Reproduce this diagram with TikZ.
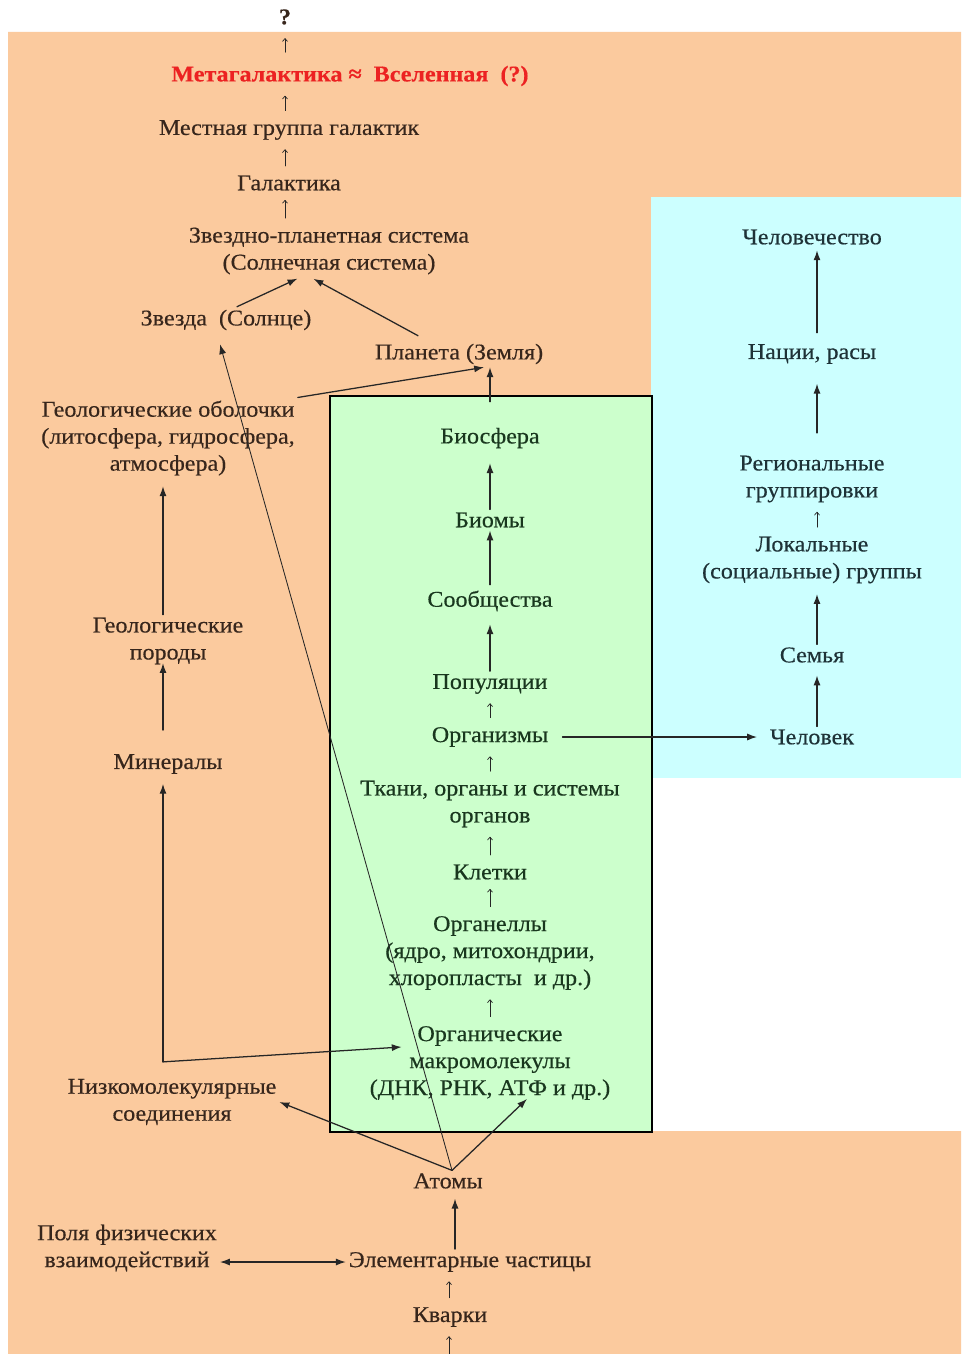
\documentclass[tikz,border=0pt]{standalone}
\usepackage{fontspec}
\setmainfont{Liberation Serif}[FakeStretch=1.07,FakeBold=0.4]
\usetikzlibrary{arrows.meta,calc}
\definecolor{peach}{RGB}{251,202,158}
\definecolor{palecyan}{RGB}{204,255,255}
\definecolor{palegreen}{RGB}{204,255,204}
\definecolor{ink}{RGB}{55,38,28}
\definecolor{greenink}{RGB}{25,55,30}
\definecolor{cyanink}{RGB}{30,50,55}
\definecolor{titlered}{RGB}{236,34,34}

\begin{document}
\begin{tikzpicture}[x=0.025cm,y=-0.025cm,line cap=round,
  lvl/.style={font=\fontsize{16}{19.2}\selectfont,text=ink,align=center,inner sep=2pt},
  biolvl/.style={lvl,text=greenink},
  soclvl/.style={lvl,text=cyanink},
  title/.style={lvl,font=\fontsize{16}{19.2}\selectfont\bfseries,text=titlered},
  link/.style={->,>={Latex[length=7pt,width=5pt]},line width=0.9pt,draw=black!85},
  thinlink/.style={link,line width=0.6pt},
  uptick/.style={-{To[length=2.5pt,width=4pt]},line width=0.5pt,draw=black!85,shorten <=#1,shorten >=#1},
  uptick/.default=4.6pt]
  \useasboundingbox (0,0) rectangle (961,1354);
  % backgrounds
  \fill[peach] (8,32) -- (961,32) -- (961,197) -- (651,197) -- (651,1131) -- (961,1131) -- (961,1354) -- (8,1354) -- cycle;
  \fill[palecyan] (651,197) rectangle (961,778);
  \filldraw[fill=palegreen,line width=2pt] (330,396) rectangle (652,1132);
  \coordinate (tcol) at (285,0); \coordinate (lcol) at (163,0);
  \coordinate (rcol) at (817,0); \coordinate (bcol) at (455,0); \coordinate (kcol) at (449,0);

  % cosmos
  \node[title,text=ink] (q) at (285,17) {?};
  \node[title] (meta) at (350,76) {Метагалактика ≈~~Вселенная~~(?)};
  \node[lvl] (mestn) at (289,130) {Местная группа галактик};
  \node[lvl] (galak) at (289,183) {Галактика};
  \node[lvl] (zvpl) at (329,251) {Звездно-планетная система\\(Солнечная система)};
  \node[lvl] (zvezda) at (226,320) {Звезда~~(Солнце)};
  \node[lvl] (planeta) at (459,354) {Планета (Земля)};
  % geology
  \node[lvl] (geolob) at (168,438) {Геологические оболочки\\(литосфера, гидросфера,\\атмосфера)};
  \node[lvl] (geolpor) at (168,641) {Геологические\\породы};
  \node[lvl] (miner) at (168,764) {Минералы};
  \node[lvl] (nizk) at (172,1102) {Низкомолекулярные\\соединения};
  % living matter
  \node[biolvl] (biosf) at (490,438) {Биосфера};
  \node[biolvl] (biomy) at (490,520) {Биомы};
  \node[biolvl] (soob) at (490,601) {Сообщества};
  \node[biolvl] (popul) at (490,684) {Популяции};
  \node[biolvl] (organ) at (490,737) {Организмы};
  \node[biolvl] (tkani) at (490,804) {Ткани, органы и системы\\органов};
  \node[biolvl] (kletki) at (490,872) {Клетки};
  \node[biolvl] (organelly) at (490,953) {Органеллы\\(ядро, митохондрии,\\хлоропласты~~и др.)};
  \node[biolvl] (orgmacro) at (490,1063) {Органические\\макромолекулы\\(ДНК, РНК, АТФ и др.)};
  % micro world
  \node[lvl] (atomy) at (448,1181) {Атомы};
  \node[lvl] (polya) at (127,1248) {Поля физических\\взаимодействий};
  \node[lvl] (elem) at (470,1262) {Элементарные частицы};
  \node[lvl] (kvarki) at (450,1317) {Кварки};
  \coordinate (stem) at (449,1362);
  % society
  \node[soclvl] (chelovech) at (812,237) {Человечество};
  \node[soclvl] (nacii) at (812,354) {Нации, расы};
  \node[soclvl] (region) at (812,479) {Региональные\\группировки};
  \node[soclvl] (lokal) at (812,560) {Локальные\\(социальные) группы};
  \node[soclvl] (semya) at (812,655) {Семья};
  \node[soclvl] (chelovek) at (812,737) {Человек};

  % small upward arrows
  \draw[uptick=7.5pt] (meta.north -| tcol) -- (q.south -| tcol);
  \draw[uptick] (mestn.north -| tcol) -- (meta.south -| tcol);
  \draw[uptick] (galak.north -| tcol) -- (mestn.south -| tcol);
  \draw[uptick] (zvpl.north -| tcol) -- (galak.south -| tcol);
  \draw[uptick] (organ.north) -- (popul.south);
  \draw[uptick] (tkani.north) -- (organ.south);
  \draw[uptick] (kletki.north) -- (tkani.south);
  \draw[uptick] (organelly.north) -- (kletki.south);
  \draw[uptick] (orgmacro.north) -- (organelly.south);
  \draw[uptick] (kvarki.north -| kcol) -- (elem.south -| kcol);
  \draw[uptick] (stem) -- (kvarki.south -| kcol);
  \draw[uptick] (lokal.north -| rcol) -- (region.south -| rcol);

  % cosmos links
  \draw[link,shorten >=2pt] ($(zvezda.north)+(11,0)$) -- ($(zvpl.south)+(-29,0)$);
  \draw[link,shorten >=2pt] ($(planeta.north)+(-41,-5)$) -- ($(zvpl.south)+(-18,0)$);
  \draw[link] ($(biosf.north)+(0,-23)$) -- ($(planeta.south)+(31,0)$);
  \draw[link] (geolob.north east) -- ($(planeta.south)+(25,0)$);
  % geology links
  \draw[link,shorten <=15pt,shorten >=-3pt] (miner.north -| lcol) -- (geolpor.south -| lcol);
  \draw[link,shorten >=5.5pt] (geolpor.north -| lcol) -- (geolob.south -| lcol);
  \coordinate (split) at ($(nizk.north -| lcol)+(0,-14)$);
  \draw[link,shorten >=5pt] (split) -- (miner.south -| lcol);
  \draw[link] (split) -- ($(orgmacro.west)+(35,-16)$);
  % living matter links
  \draw[link,shorten >=8.5pt] (biomy.north) -- (biosf.south);
  \draw[link,shorten <=2pt] (soob.north) -- (biomy.south);
  \draw[link,shorten >=7pt] (popul.north) -- (soob.south);
  \draw[link,shorten <=8pt,shorten >=7pt] (organ.east) -- (chelovek.west);
  % atoms
  \draw[link] ($(atomy.north)+(4,0)$) -- ($(orgmacro.south)+(37,-4)$);
  \draw[link] ($(atomy.north)+(4,0)$) -- (nizk.east);
  \draw[thinlink] ($(atomy.north)+(4,0)$) -- ($(zvezda.south)+(-6,11)$);
  \draw[link,shorten >=5pt] (elem.north -| bcol) -- (atomy.south -| bcol);
  \draw[link,<->] (polya.east |- elem) -- (elem.west);
  % society links
  \draw[link,shorten >=7pt] (chelovek.north -| rcol) -- (semya.south -| rcol);
  \draw[link,shorten >=5.5pt] (semya.north -| rcol) -- (lokal.south -| rcol);
  \draw[link,shorten <=14pt,shorten >=12pt] (region.north -| rcol) -- (nacii.south -| rcol);
  \draw[link,shorten <=6pt,shorten >=2pt] (nacii.north -| rcol) -- (chelovech.south -| rcol);
\end{tikzpicture}
\end{document}
